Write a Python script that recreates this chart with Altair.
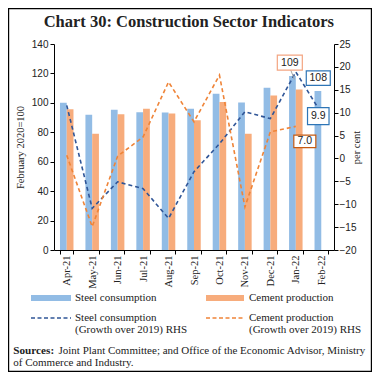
import altair as alt
import pandas as pd

# ---- data ----
months = ["Apr-21", "May-21", "Jun-21", "Jul-21", "Aug-21", "Sep-21",
          "Oct-21", "Nov-21", "Dec-21", "Jan-22", "Feb-22"]
steel_index = [100, 92, 95.4, 93.6, 93.4, 96, 106.2, 100.2, 110.2, 118.3, 108]
cement_index = [95.6, 79, 92.2, 96, 92.7, 88.1, 100.6, 79, 105, 109, None]
steel_growth = [11.6, -10.9, -5.1, -6.6, -13.1, -2.9, 3.2, 10.2, 8.7, 18.9, 9.9]
cement_growth = [0.7, -14.9, 0.5, 4.7, 16.7, 8.0, 18.2, -10.6, 5.8, 7.0, None]

bar_series = ["Steel consumption", "Cement production"]
line_series = ["Steel consumption (Growth over 2019) RHS",
               "Cement production (Growth over 2019) RHS"]

STEEL_BAR = "#92BCE5"
CEMENT_BAR = "#F7AC7C"
STEEL_LINE = "#2F5597"
CEMENT_LINE = "#EF8438"
SERIF = "Liberation Serif"
SANS = "Liberation Sans"

rows = []
for m, s, c in zip(months, steel_index, cement_index):
    rows.append({"month": m, "series": bar_series[0], "value": s})
    if c is not None:
        rows.append({"month": m, "series": bar_series[1], "value": c})
bar_df = pd.DataFrame(rows)

lrows = []
for m, s, c in zip(months, steel_growth, cement_growth):
    lrows.append({"month": m, "series": line_series[0], "value": s})
    if c is not None:
        lrows.append({"month": m, "series": line_series[1], "value": c})
line_df = pd.DataFrame(lrows)

x_scale = alt.Scale(domain=months, paddingInner=0.47, paddingOuter=0.235)
x_axis = alt.Axis(labelAngle=270, labelFont=SERIF, labelFontSize=10.5,
                  labelColor="#222", tickBand="extent", tickSize=4,
                  tickColor="black", domainColor="black", labelPadding=1,
                  labelOverlap=False)


def X():
    return alt.X("month:N", scale=x_scale, axis=x_axis, title=None)


bars = alt.Chart(bar_df).mark_bar().encode(
    x=X(),
    xOffset=alt.XOffset("series:N", sort=bar_series,
                        scale=alt.Scale(paddingInner=0, paddingOuter=0)),
    y=alt.Y("value:Q", scale=alt.Scale(domain=[0, 140], nice=False),
            axis=alt.Axis(values=list(range(0, 141, 20)), labelFont=SANS,
                          labelFontSize=10, labelColor="#222", tickSize=4,
                          tickColor="black", domainColor="black", grid=False,
                          labelPadding=2, title="February 2020=100",
                          titleFont=SERIF, titleFontSize=10.5,
                          titleFontWeight="normal", titleColor="#222",
                          titlePadding=6)),
    color=alt.Color("series:N", scale=alt.Scale(domain=bar_series,
                                                range=[STEEL_BAR, CEMENT_BAR]),
                    legend=None),
)

lines = alt.Chart(line_df).mark_line(strokeDash=[4, 3], strokeWidth=1.6).encode(
    x=X(),
    y=alt.Y("value:Q", scale=alt.Scale(domain=[-20, 25], nice=False),
            axis=alt.Axis(orient="right", values=list(range(-20, 26, 5)),
                          labelFont=SANS, labelFontSize=10, labelColor="#222",
                          tickSize=4, tickColor="black", domainColor="black",
                          grid=False, labelPadding=1, title="per cent",
                          titleAngle=270, titleFont=SERIF, titleFontSize=10.5,
                          titleFontWeight="normal", titleColor="#222",
                          titlePadding=6)),
    color=alt.Color("series:N", scale=alt.Scale(domain=line_series,
                                                range=[STEEL_LINE, CEMENT_LINE]),
                    legend=None),
)


def label_box(month, value, domain, text, dx, dy, w, h, color):
    src = alt.Data(values=[{"month": month, "value": value, "label": text}])
    y = alt.Y("value:Q", scale=alt.Scale(domain=domain, nice=False), axis=None)
    r = h / w
    shape = f"M-1,-{r:.4f}H1V{r:.4f}H-1Z"
    box = alt.Chart(src).mark_point(shape=shape, size=w * w, fill="white",
                                    stroke=color, strokeWidth=1.2, opacity=1,
                                    filled=False, xOffset=dx, yOffset=dy).encode(
        x=X(), y=y)
    txt = alt.Chart(src).mark_text(font=SANS, fontSize=10.5, color="#222",
                                   xOffset=dx, yOffset=dy, baseline="middle",
                                   align="center").encode(
        x=X(), y=y, text="label:N")
    return [box, txt]


leader = alt.Chart(alt.Data(values=[{}])).mark_rule(
    color="#A6A6A6", strokeWidth=1).encode(
    x=alt.value(236.7), y=alt.value(26), x2=alt.value(240.5), y2=alt.value(35.5))

annots = []
annots += label_box("Jan-22", cement_index[9], [0, 140], "109", -6, -27, 25, 15, "#F4A582")
annots += label_box("Feb-22", steel_index[10], [0, 140], "108", -3, -13, 24, 14.5, "#2E75B6")
annots += label_box("Feb-22", steel_growth[10], [-20, 25], "9.9", -3, 3, 21.5, 17, "#2E75B6")
annots += label_box("Jan-22", cement_growth[9], [-20, 25], "7.0", 9, 15, 22, 12.5, "#C55A11")

one = alt.Data(values=[{}])


def text(t, x, y, size=11, weight="normal", align="left", baseline="middle", font=SERIF):
    return alt.Chart(one).mark_text(text=t, font=font, fontSize=size,
                                    fontWeight=weight, align=align,
                                    baseline=baseline, color="#222").encode(
        x=alt.value(x), y=alt.value(y))


def swatch(x0, x1, y0, y1, color):
    return alt.Chart(one).mark_rect(color=color).encode(
        x=alt.value(x0), x2=alt.value(x1), y=alt.value(y0), y2=alt.value(y1))


def dash(x0, x1, y, color):
    return alt.Chart(one).mark_rule(color=color, strokeDash=[4, 2.5], strokeWidth=1.6).encode(
        x=alt.value(x0), x2=alt.value(x1), y=alt.value(y))


deco = [
    text("Chart 30: Construction Sector Indicators", 134.8, -17.5, size=16.5,
         weight="bold", align="center", baseline="alphabetic"),
    swatch(-23, 17, 251, 257, STEEL_BAR),
    text("Steel consumption", 21, 254),
    swatch(152, 190, 251, 257, CEMENT_BAR),
    text("Cement production", 195, 254),
    dash(-23, 17, 274, STEEL_LINE),
    text("Steel consumption", 21, 273.7),
    text("(Growth over 2019) RHS", 21, 286),
    dash(152, 190, 274, CEMENT_LINE),
    text("Cement production", 195, 273.7),
    text("(Growth over 2019) RHS", 195, 286),
    text("Sources:", -40.7, 307, size=11.2, weight="bold"),
    text("Joint Plant Committee; and Office of the Economic Advisor, Ministry", 4.5, 307, size=11),
    text("of Commerce and Industry.", -40.7, 319, size=11),
    alt.Chart(one).mark_rect(fill=None, stroke="black", strokeWidth=1.2).encode(
        x=alt.value(-45.4), x2=alt.value(317.4), y=alt.value(-35.4), y2=alt.value(327.4)),
]

chart = alt.layer(bars, lines, leader, *annots, *deco).resolve_scale(
    y="independent", color="independent"
).properties(
    width=280, height=206,
    autosize=alt.AutoSizeParams(type="none"),
    padding={"left": 46, "top": 36, "right": 38, "bottom": 122},
    background="white",
).configure_view(stroke=None)

chart.save("out.html", embed_options={"renderer": "svg", "actions": False})
